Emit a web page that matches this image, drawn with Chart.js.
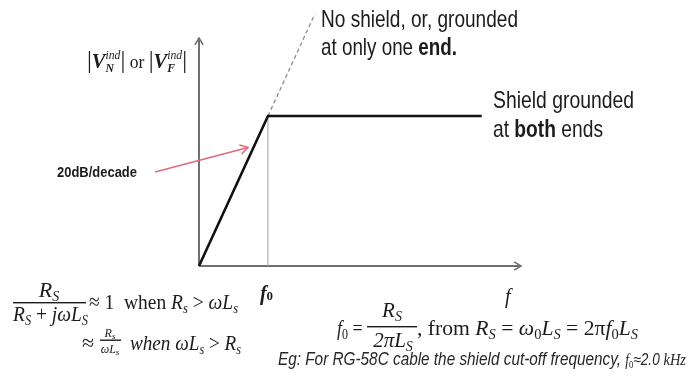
<!DOCTYPE html>
<html>
<head>
<meta charset="utf-8">
<script src="https://cdn.jsdelivr.net/npm/chart.js@4/dist/chart.umd.min.js"></script>
<style>
html, body { margin: 0; padding: 0; background: #fff; }
canvas { display: block; }
</style>
</head>
<body>
<canvas id="myChart" width="688" height="380"></canvas>
<script>
// frequency in units of f0, magnitude in units of the plateau level
const freq = [0, 1, 4.1];
const shieldBoth = [0, 1, 1];
const noShieldFreq = [1, 1.68];
const noShield = [1, 1.68];
const cutoff = 1;
const axisMax = { x: 4.67, y: 1.52 };

const SANS = '"Liberation Sans", Arial, sans-serif';
const SERIF = '"Liberation Serif", "Times New Roman", serif';
const INK = '#1c1c1c';

function font(style, size, fam) {
    return style + ' ' + size + 'px ' + fam;
}

// lay out a row of text runs; 'hold' stacks the next run on the same x (sup over sub)
function layout(ctx, runs) {
    let x = 0, held = 0;
    let items = [];
    for (const r of runs) {
        ctx.font = r[1];
        let w = ctx.measureText(r[0]).width;
        items.push({ t: r[0], f: r[1], dy: r[2] || 0, x: x });
        if (r[3] === 'hold') {
            held = Math.max(held, w);
        } else {
            x += Math.max(held, w);
            held = 0;
        }
    }
    return { items: items, width: x };
}

function drawRuns(ctx, x, y, runs, width, color) {
    let l = layout(ctx, runs);
    let s = width ? width / l.width : 1;
    ctx.save();
    ctx.fillStyle = color || INK;
    ctx.textBaseline = 'alphabetic';
    ctx.translate(x, y);
    ctx.scale(s, 1);
    for (const it of l.items) {
        ctx.font = it.f;
        ctx.fillText(it.t, it.x, it.dy);
    }
    ctx.restore();
    return x + l.width * s;
}

function drawCentered(ctx, cx, y, runs) {
    let l = layout(ctx, runs);
    drawRuns(ctx, cx - l.width / 2, y, runs);
}

function bar(ctx, x1, x2, y) {
    ctx.fillStyle = INK;
    ctx.fillRect(x1, y, x2 - x1, 1.4);
}

function chevron(ctx, x, y, angle, len) {
    ctx.beginPath();
    ctx.moveTo(x + len * Math.cos(angle + 2.6), y + len * Math.sin(angle + 2.6));
    ctx.lineTo(x, y);
    ctx.lineTo(x + len * Math.cos(angle - 2.6), y + len * Math.sin(angle - 2.6));
    ctx.stroke();
}

const axesPlugin = {
    id: 'axes',
    beforeDatasetsDraw(chart) {
        const ctx = chart.ctx;
        const sx = chart.scales.x, sy = chart.scales.y;
        let x0 = sx.getPixelForValue(0), y0 = sy.getPixelForValue(0);
        let xe = sx.getPixelForValue(axisMax.x), ye = sy.getPixelForValue(axisMax.y);
        ctx.save();
        ctx.strokeStyle = '#707070';
        ctx.lineWidth = 2;
        ctx.beginPath();
        ctx.moveTo(x0, y0);
        ctx.lineTo(xe, y0);
        ctx.moveTo(x0, y0);
        ctx.lineTo(x0, ye);
        ctx.stroke();
        ctx.lineWidth = 1.6;
        chevron(ctx, xe, y0, 0, 8);
        chevron(ctx, x0, ye, -Math.PI / 2, 8);
        ctx.restore();
    }
};

const notesPlugin = {
    id: 'notes',
    afterDraw(chart) {
        const ctx = chart.ctx;

        // captions for the two curves
        drawRuns(ctx, 321, 27, [['No shield, or, grounded', font('', 24, SANS)]], 197);
        drawRuns(ctx, 321, 55, [['at only one ', font('', 24, SANS)], ['end.', font('bold', 24, SANS)]], 136);
        drawRuns(ctx, 493, 108, [['Shield grounded', font('', 24, SANS)]], 141);
        drawRuns(ctx, 493, 137, [['at ', font('', 24, SANS)], ['both', font('bold', 24, SANS)], [' ends', font('', 24, SANS)]], 110);

        // slope note with its arrow
        drawRuns(ctx, 57, 177, [['20dB/decade', font('bold', 15, SANS)]], 80);
        ctx.save();
        ctx.strokeStyle = '#e06a78';
        ctx.lineWidth = 1.6;
        ctx.beginPath();
        ctx.moveTo(155, 172);
        ctx.lineTo(248, 147.5);
        ctx.stroke();
        chevron(ctx, 248, 147.5, Math.atan2(-24.5, 93), 9);
        ctx.restore();

        // y axis title
        const vi = font('italic bold', 21, SERIF);
        const sup = font('italic', 12, SERIF);
        const sub = font('italic bold', 12, SERIF);
        const pipe = font('', 25, SERIF);
        drawRuns(ctx, 87, 68, [
            ['|', pipe], ['V', vi], ['ind', sup, -9, 'hold'], ['N', sub, 4], ['|', pipe],
            [' or ', font('', 18, SERIF)],
            ['|', pipe], ['V', vi], ['ind', sup, -9, 'hold'], ['F', sub, 4], ['|', pipe]
        ], 100);

        // axis labels
        drawRuns(ctx, chart.scales.x.getPixelForValue(cutoff) - 8, 300,
            [['f', font('italic bold', 20, SERIF)], ['0', font('bold', 13, SERIF)]]);
        drawRuns(ctx, 505, 303, [['f', font('italic', 20, SERIF)]]);

        const it = font('italic', 22, SERIF);
        const up = font('', 22, SERIF);
        const sb = font('italic', 14, SERIF);

        // Rs / (Rs + jwLs)
        drawCentered(ctx, 49, 297, [['R', it], ['S', sb, 4]]);
        bar(ctx, 13, 86, 302);
        drawRuns(ctx, 13, 321, [['R', it], ['S', sb, 4], [' + ', up], ['jωL', it], ['S', sb, 4]], 75);
        drawRuns(ctx, 89, 309, [['≈ 1  when ', up], ['R', it], ['s', sb, 4], [' > ', up], ['ωL', it], ['s', sb, 4]], 149);

        drawRuns(ctx, 82, 350, [['≈', up]]);
        drawCentered(ctx, 110, 337, [['R', font('italic', 12, SERIF)], ['s', font('italic', 9, SERIF), 2]]);
        bar(ctx, 100, 121, 339.5);
        drawCentered(ctx, 110, 353, [['ωL', font('italic', 12, SERIF)], ['s', font('italic', 9, SERIF), 2]]);
        drawRuns(ctx, 130, 350, [['when ωL', it], ['s', sb, 4], [' > ', up], ['R', it], ['s', sb, 4]], 111);

        // f0 = Rs / 2piLs
        const it2 = font('italic', 21, SERIF);
        const up2 = font('', 21, SERIF);
        drawRuns(ctx, 337, 335, [['f', it2], ['0', font('', 14, SERIF), 4], [' = ', up2]], 30);
        drawCentered(ctx, 392, 317, [['R', it2], ['S', sb, 4]]);
        bar(ctx, 367, 417, 326);
        drawCentered(ctx, 393, 347, [['2πL', it2], ['S', sb, 4]]);
        drawRuns(ctx, 417, 335, [
            [', from ', up2], ['R', it2], ['S', sb, 4], [' = ', up2], ['ω', it2], ['0', font('', 14, SERIF), 4],
            ['L', it2], ['S', sb, 4], [' = 2π', up2], ['f', it2], ['0', font('', 14, SERIF), 4], ['L', it2], ['S', sb, 4]
        ], 221);

        drawRuns(ctx, 278, 365, [
            ['Eg: For RG-58C cable the shield cut-off frequency, ', font('italic', 18, SANS)],
            ['f', font('italic', 16, SERIF)], ['0', font('', 10, SERIF), 3],
            ['≈2.0 ', font('italic', 16, SANS)], ['kHz', font('italic', 17, SERIF)]
        ], 408, '#262626');
    }
};

function points(xs, ys) {
    return xs.map((x, i) => ({ x: x, y: ys[i] }));
}

var ctx = document.getElementById('myChart').getContext('2d');

var data = {
    datasets: [
        {
            label: 'Shield grounded at both ends',
            data: points(freq, shieldBoth),
            borderColor: '#111111',
            borderWidth: 2.6,
            showLine: true,
            pointRadius: 0,
            tension: 0,
            clip: false
        },
        {
            label: 'No shield, or, grounded at only one end',
            data: points(noShieldFreq, noShield),
            borderColor: '#8c8c8c',
            borderWidth: 1.3,
            borderDash: [4, 3],
            showLine: true,
            pointRadius: 0,
            tension: 0,
            clip: false
        },
        {
            label: 'f0',
            data: points([cutoff, cutoff], [0, shieldBoth[1]]),
            borderColor: '#a0a0a0',
            borderWidth: 1,
            showLine: true,
            pointRadius: 0,
            tension: 0,
            clip: false
        }
    ]
};

var config = {
    type: 'scatter',
    data: data,
    options: {
        responsive: false,
        animation: false,
        layout: { padding: { left: 199, right: 167, top: 38, bottom: 114 } },
        scales: {
            x: { type: 'linear', display: false, min: 0, max: axisMax.x },
            y: { type: 'linear', display: false, min: 0, max: axisMax.y }
        },
        plugins: {
            legend: { display: false },
            tooltip: { enabled: false }
        }
    },
    plugins: [axesPlugin, notesPlugin]
};

var myChart = new Chart(ctx, config);
</script>
</body>
</html>
